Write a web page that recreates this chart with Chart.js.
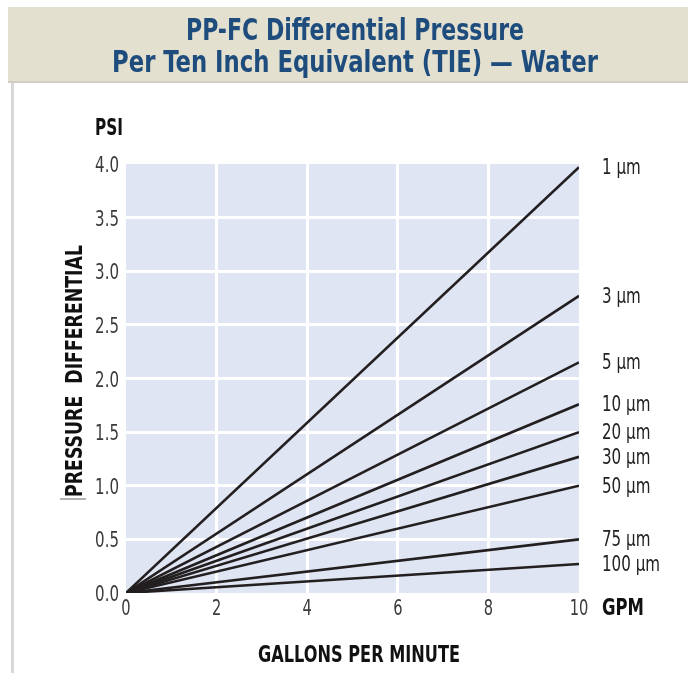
<!DOCTYPE html>
<html>
<head>
<meta charset="utf-8">
<script src="https://cdn.jsdelivr.net/npm/chart.js@4.4.1/dist/chart.umd.min.js"></script>
<style>
  html, body { margin: 0; padding: 0; background: #fff; }
  canvas { display: block; }
</style>
</head>
<body>
<canvas id="chart" width="688" height="673"></canvas>
<script>
// flow (GPM) and pressure drop (PSI) for each filter rating
const gpm = [0, 10];
const ratings = ['1 µm', '3 µm', '5 µm', '10 µm', '20 µm', '30 µm', '50 µm', '75 µm', '100 µm'];
const psi1um = [0, 3.97];
const psi3um = [0, 2.77];
const psi5um = [0, 2.15];
const psi10um = [0, 1.76];
const psi20um = [0, 1.5];
const psi30um = [0, 1.27];
const psi50um = [0, 1.0];
const psi75um = [0, 0.5];
const psi100um = [0, 0.27];
const xTicks = [0, 2, 4, 6, 8, 10];
const yTicks = [0, 0.5, 1, 1.5, 2, 2.5, 3, 3.5, 4];

const allSeries = [psi1um, psi3um, psi5um, psi10um, psi20um, psi30um, psi50um, psi75um, psi100um];

const NARROW = '"DejaVu Sans Condensed", "Liberation Sans Narrow", "Roboto", sans-serif';

// draw text squeezed horizontally by factor k (condensed type like the original)
function squeeze(ctx, txt, x, y, k, font, color, align) {
    ctx.save();
    ctx.font = font;
    ctx.fillStyle = color;
    ctx.textBaseline = 'alphabetic';
    const w = ctx.measureText(txt).width * k;
    let left = x;
    if (align === 'center') left = x - w / 2;
    if (align === 'right') left = x - w;
    ctx.translate(left, y);
    ctx.scale(k, 1);
    ctx.textAlign = 'left';
    ctx.fillText(txt, 0, 0);
    ctx.restore();
}

// same, but squeezed to a fixed width
function fitText(ctx, txt, x, y, w, font, color, align) {
    ctx.save();
    ctx.font = font;
    const m = ctx.measureText(txt).width;
    ctx.restore();
    squeeze(ctx, txt, x, y, w / m, font, color, align);
}

const decor = {
    id: 'decor',
    beforeDraw(chart) {
        const ctx = chart.ctx;
        const a = chart.chartArea;
        ctx.save();
        // header band
        ctx.fillStyle = '#e3e0d0';
        ctx.fillRect(8, 7, 680, 75);
        ctx.fillStyle = '#d2cfc2';
        ctx.fillRect(8, 81, 680, 2);
        // left rule
        ctx.fillStyle = '#d8d8d8';
        ctx.fillRect(11, 83, 3, 590);
        // plot background
        ctx.fillStyle = '#dfe5f3';
        ctx.fillRect(a.left, a.top, a.right - a.left, a.bottom - a.top);
        ctx.restore();
    },
    afterDraw(chart) {
        const ctx = chart.ctx;
        const bold = (px) => 'bold ' + px + 'px ' + NARROW;
        const blue = '#1d4c7d';
        fitText(ctx, 'PP-FC Differential Pressure', 355, 40, 338, bold(31), blue, 'center');
        fitText(ctx, 'Per Ten Inch Equivalent (TIE) \u2014 Water', 355, 72, 486, bold(31), blue, 'center');

        // tick labels, placed with the chart's own scales
        const sx = chart.scales.x;
        const sy = chart.scales.y;
        const tickFont = '22px ' + NARROW;
        xTicks.forEach(v => {
            squeeze(ctx, String(v), sx.getPixelForValue(v), 615, 0.74, tickFont, '#3a3a3a', 'center');
        });
        yTicks.forEach(v => {
            squeeze(ctx, v.toFixed(1), sy.right - 7, sy.getPixelForValue(v) + 8, 0.76, tickFont, '#3a3a3a', 'right');
        });

        fitText(ctx, 'PSI', 95, 135, 28, bold(23), '#111', 'left');
        fitText(ctx, 'GPM', 602, 615, 42, bold(23), '#111', 'left');
        fitText(ctx, 'GALLONS PER MINUTE', 359, 662, 202, bold(23), '#111', 'center');

        // rotated y title
        ctx.save();
        ctx.translate(82, 371);
        ctx.rotate(-Math.PI / 2);
        fitText(ctx, 'PRESSURE  DIFFERENTIAL', 0, 0, 252, bold(23), '#111', 'center');
        ctx.restore();
        ctx.save();
        ctx.strokeStyle = '#9a9a9a';
        ctx.lineWidth = 1.5;
        ctx.beginPath();
        ctx.moveTo(60, 499);
        ctx.lineTo(86, 499);
        ctx.stroke();
        ctx.restore();

        // rating labels at the line ends
        chart.data.datasets.forEach((ds, i) => {
            const pts = chart.getDatasetMeta(i).data;
            const end = pts[pts.length - 1];
            squeeze(ctx, ds.label, 602, end.y + 7, 0.8, '21px ' + NARROW, '#222', 'left');
        });
    }
};

const ctx = document.getElementById('chart');
const chart = new Chart(ctx, {
    type: 'line',
    data: {
        datasets: ratings.map((name, i) => ({
            label: name,
            data: gpm.map((x, j) => ({ x: x, y: allSeries[i][j] })),
            borderColor: '#231f20',
            borderWidth: 2.6,
            pointRadius: 0,
            tension: 0,
        })),
    },
    options: {
        responsive: false,
        animation: false,
        layout: { padding: { left: 0, top: 164, right: 109, bottom: 0 } },
        plugins: { legend: { display: false }, tooltip: { enabled: false } },
        scales: {
            x: {
                type: 'linear',
                min: xTicks[0],
                max: xTicks[xTicks.length - 1],
                afterBuildTicks: s => { s.ticks = xTicks.map(v => ({ value: v })); },
                afterFit: s => { s.height = 80; },
                ticks: { display: false },
                grid: {
                    color: c => (c.tick && (c.tick.value === 0 || c.tick.value === 10)) ? 'rgba(0,0,0,0)' : '#ffffff',
                    lineWidth: 3,
                    drawTicks: false,
                },
                border: { display: false },
            },
            y: {
                min: yTicks[0],
                max: yTicks[yTicks.length - 1],
                afterBuildTicks: s => { s.ticks = yTicks.map(v => ({ value: v })); },
                afterFit: s => { s.width = 126; },
                ticks: { display: false },
                grid: {
                    color: c => (c.tick && (c.tick.value === 0 || c.tick.value === 4)) ? 'rgba(0,0,0,0)' : '#ffffff',
                    lineWidth: 3,
                    drawTicks: false,
                },
                border: { display: false },
            },
        },
    },
    plugins: [decor],
});
</script>
</body>
</html>
